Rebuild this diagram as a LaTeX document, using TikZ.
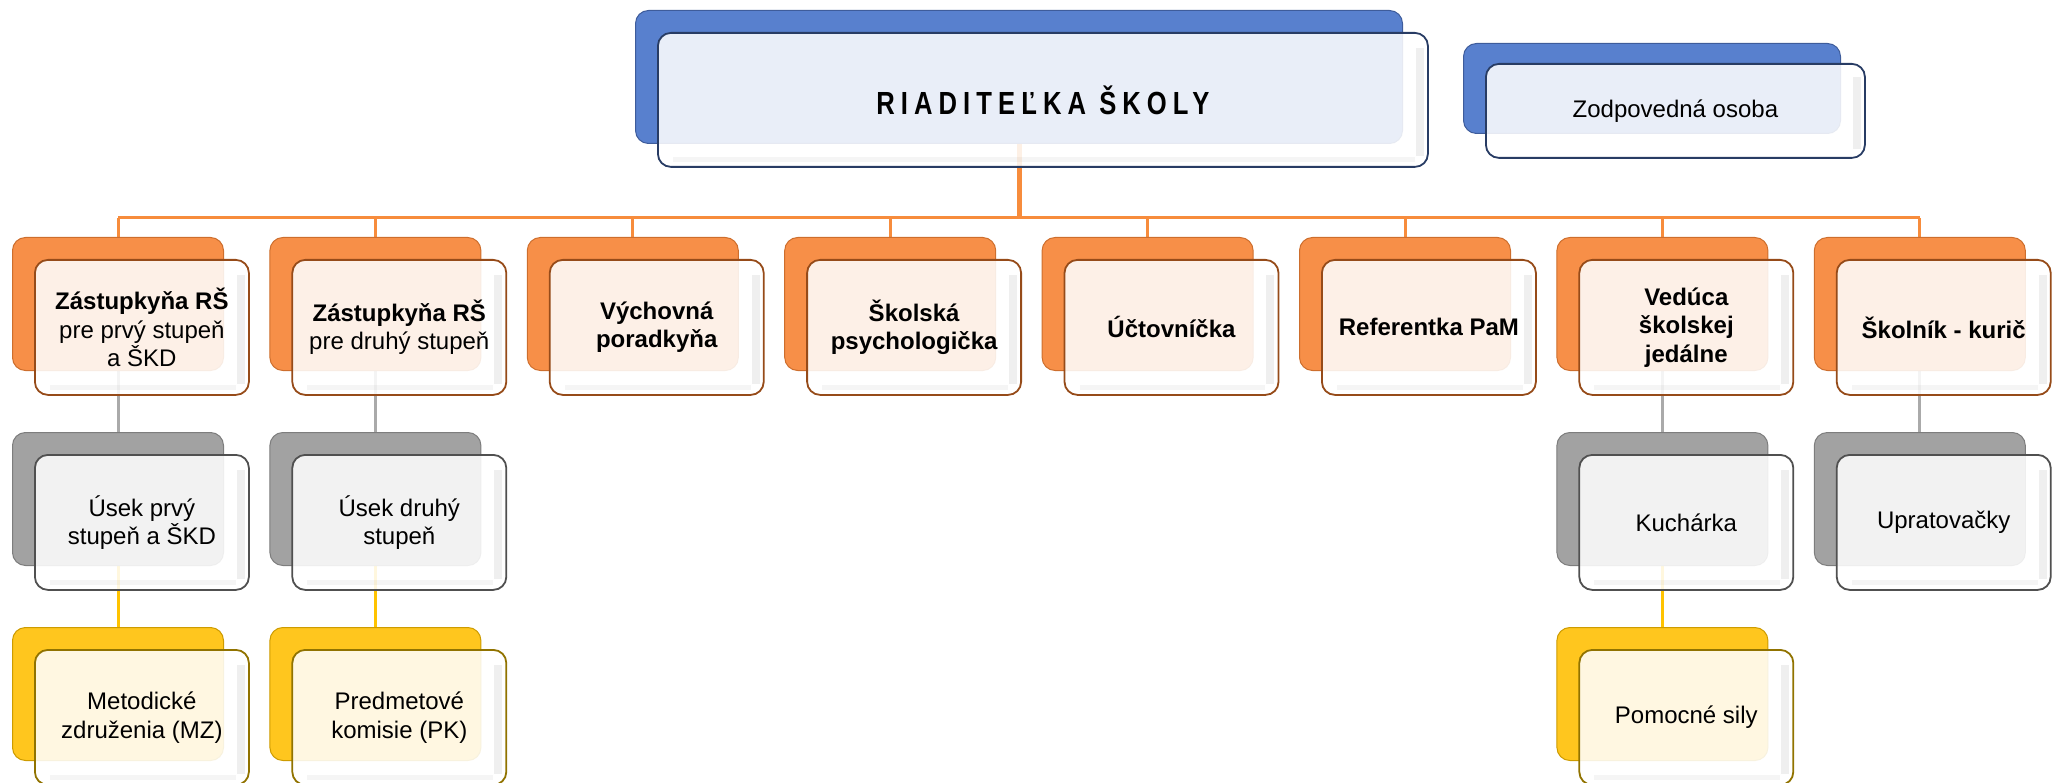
\documentclass[tikz,border=0pt]{standalone}
\usepackage{fontspec}
\setmainfont{Liberation Sans}
\newfontfamily\titlefont[FakeStretch=0.8,LetterSpace=19]{Liberation Sans}
\usetikzlibrary{backgrounds}
\definecolor{blB}{RGB}{88,128,206}
\definecolor{blD}{RGB}{62,92,155}
\definecolor{blF}{RGB}{40,60,100}
\definecolor{orB}{RGB}{247,143,72}
\definecolor{orD}{RGB}{205,110,45}
\definecolor{orF}{RGB}{150,75,25}
\definecolor{grB}{RGB}{162,162,162}
\definecolor{grD}{RGB}{125,125,125}
\definecolor{grF}{RGB}{80,80,80}
\definecolor{yeB}{RGB}{255,198,30}
\definecolor{yeD}{RGB}{205,155,0}
\definecolor{yeF}{RGB}{145,115,0}
\definecolor{oL}{RGB}{247,140,60}
\definecolor{gL}{RGB}{170,170,170}
\definecolor{yL}{RGB}{255,195,0}
\newcommand{\orgunit}[6]{%
  \node[backbox=#4] (#1-b) at (#2,#3) {};
  \node[frontbox=#4, font=#5] (#1) at ({#2+22},{#3+22}) {#6};
  \draw[bevel, line width=8pt] ([xshift=-9pt,yshift=-16pt]#1.north east) -- ([xshift=-9pt,yshift=12pt]#1.south east);
  \draw[bevel, line width=5pt, draw opacity=0.035] ([xshift=16pt,yshift=8pt]#1.south west) -- ([xshift=-14pt,yshift=8pt]#1.south east);
}
\tikzset{
  backbox/.style={draw=#1D, fill=#1B, line width=1pt, rounded corners=13pt,
    minimum width=211pt, minimum height=133pt, anchor=north west, inner sep=0pt},
  frontbox/.style={draw=#1F, fill=white, fill opacity=0.87, text opacity=1, line width=1.8pt,
    rounded corners=13pt, minimum width=214pt, minimum height=135pt, anchor=north west,
    align=center, inner sep=2pt},
  bevel/.style={draw=black, draw opacity=0.06},
  oline/.style={draw=oL, line width=3pt},
  gline/.style={draw=gL, line width=3pt},
  yline/.style={draw=yL, line width=3pt},
}
\newcommand{\nf}{\fontsize{24}{28.5}\selectfont}
\newcommand{\bff}{\fontsize{24}{28.5}\selectfont\bfseries}
\begin{document}
\begin{tikzpicture}[x=1pt,y=-1pt]
\useasboundingbox (0,0) rectangle (2055,783);
% top
\node[backbox=bl, minimum width=767pt, minimum height=133pt] (dir-b) at (635,10) {};
\node[frontbox=bl, minimum width=770pt, minimum height=134pt, font=\titlefont\fontsize{32}{36}\selectfont\bfseries] (dir) at (657,32) {RIADITEĽKA ŠKOLY};
\draw[bevel, line width=8pt] ([xshift=-9pt,yshift=-16pt]dir.north east) -- ([xshift=-9pt,yshift=12pt]dir.south east);
\draw[bevel, line width=5pt, draw opacity=0.035] ([xshift=16pt,yshift=8pt]dir.south west) -- ([xshift=-14pt,yshift=8pt]dir.south east);
\node[backbox=bl, minimum width=377pt, minimum height=90pt] (zod-b) at (1463,43) {};
\node[frontbox=bl, minimum width=379pt, minimum height=94pt, font=\nf] (zod) at (1485,63) {Zodpovedná osoba};
\draw[bevel, line width=8pt] ([xshift=-9pt,yshift=-14pt]zod.north east) -- ([xshift=-9pt,yshift=10pt]zod.south east);
% level 1
\orgunit{c0}{12}{237}{or}{\nf}{{\bfseries Zástupkyňa RŠ}\\pre prvý stupeň\\a ŠKD}
\orgunit{c1}{269.4}{237}{or}{\nf}{{\bfseries Zástupkyňa RŠ}\\pre druhý stupeň}
\orgunit{c2}{526.8}{237}{or}{\bff}{Výchovná\\poradkyňa}
\orgunit{c3}{784.2}{237}{or}{\bff}{Školská\\psychologička}
\orgunit{c4}{1041.6}{237}{or}{\bff}{Účtovníčka}
\orgunit{c5}{1299}{237}{or}{\bff}{Referentka PaM}
\orgunit{c6}{1556.4}{237}{or}{\bff}{Vedúca\\školskej\\jedálne}
\orgunit{c7}{1813.8}{237}{or}{\bff}{Školník - kurič}
% level 2
\orgunit{g0}{12}{432}{gr}{\nf}{Úsek prvý\\stupeň a ŠKD}
\orgunit{g1}{269.4}{432}{gr}{\nf}{Úsek druhý\\stupeň}
\orgunit{g6}{1556.4}{432}{gr}{\nf}{Kuchárka}
\orgunit{g7}{1813.8}{432}{gr}{\nf}{Upratovačky}
% level 3
\orgunit{y0}{12}{627}{ye}{\nf}{Metodické\\združenia (MZ)}
\orgunit{y1}{269.4}{627}{ye}{\nf}{Predmetové\\komisie (PK)}
\orgunit{y6}{1556.4}{627}{ye}{\nf}{Pomocné sily}
% connectors
\coordinate (bus) at (0,218);
\begin{scope}[on background layer]
\draw[oline, line width=5pt] (dir-b.south) -- (dir-b.south |- bus);
\draw[oline] (c0-b.north |- bus) -- (c7-b.north |- bus);
\foreach \i in {0,...,7} \draw[oline] (c\i-b.north |- bus) -- (c\i-b.north);
\foreach \i in {0,1,6,7} \draw[gline] (c\i-b.south) -- (g\i-b.north);
\foreach \i in {0,1,6} \draw[yline] (g\i-b.south) -- (y\i-b.north);
\end{scope}
\end{tikzpicture}
\end{document}
